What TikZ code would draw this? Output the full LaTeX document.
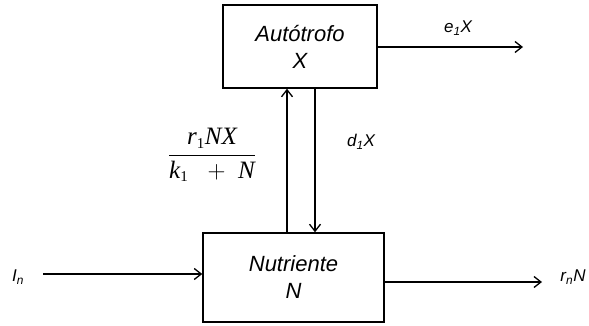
\documentclass[tikz,border=0pt]{standalone}
\usepackage{fontspec}
\setmainfont{Liberation Sans}
\newfontfamily\serifit{Liberation Serif}[ItalicFont=* Italic]
\usetikzlibrary{arrows.meta}

\tikzset{
	caixa/.style={draw, line width=1.5pt, align=center, font=\fontsize{22}{27}\selectfont\itshape},
	seta/.style={line width=1.5pt, -{Straight Barb[length=7pt,width=11pt,line width=1.3pt]}},
	rotulo/.style={font=\fontsize{17}{19}\selectfont\itshape, inner sep=0pt}
}
\newcommand{\ti}[1]{\hbox{\serifit\itshape #1}}
\newcommand{\ind}{\hbox{\serifit\fontsize{15}{15}\selectfont 1}}

\begin{document}
\begin{tikzpicture}[x=1pt, y=-1pt]
\useasboundingbox (0,0) rectangle (589,326);

% Caixas
	\node[caixa, minimum width=154, minimum height=83] (autotrofo) at (300,46.5) {Autótrofo\\X};
	\node[caixa, minimum width=181, minimum height=89] (nutriente) at (293.5,277.5) {Nutriente\\N};

% Pontas livres
	\coordinate (saidaX) at (523,47);
	\coordinate (entrada) at (43,274);
	\coordinate (saidaN) at (542,282);

% Fluxos
	\draw[seta] (autotrofo.east |- saidaX) -- (saidaX);
	\draw[seta] (entrada) -- (nutriente.west |- entrada);
	\draw[seta] (nutriente.east |- saidaN) -- (saidaN);
	\draw[seta] ([xshift=-6.5pt]nutriente.north) -- ([xshift=-6.5pt]nutriente.north |- autotrofo.south);
	\draw[seta] ([xshift=15pt]autotrofo.south) -- ([xshift=15pt]autotrofo.south |- nutriente.north);

% Rotulos
	\node[rotulo] (eX) at (458,28) {e\textsubscript{1}X};
	\node[rotulo] (dX) at (361,142) {d\textsubscript{1}X};
	\node[rotulo] (In) at (18,277) {I\textsubscript{n}};
	\node[rotulo] (rN) at (573,277) {r\textsubscript{n}N};
	\node[inner sep=0pt, font=\fontsize{25}{29}\selectfont] (taxa) at (212,155)
		{$\displaystyle\frac{\ti{r}_{\ind}\ti{NX}}{\ti{k}_{\ind}\ \ +\ \ti{N}}$};
\end{tikzpicture}
\end{document}
